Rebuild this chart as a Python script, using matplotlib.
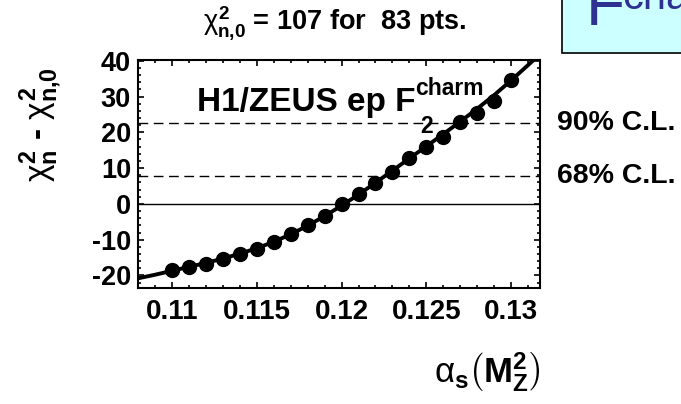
import matplotlib
matplotlib.use("Agg")
import matplotlib.pyplot as plt
from matplotlib.patches import Rectangle
from matplotlib.ticker import MultipleLocator
import matplotlib.transforms as mtransforms

plt.rcParams['font.family'] = ['Liberation Sans', 'DejaVu Sans']
plt.rcParams['axes.unicode_minus'] = False
plt.rcParams['mathtext.fontset'] = 'custom'
plt.rcParams['mathtext.rm'] = 'Liberation Sans'
plt.rcParams['mathtext.bf'] = 'Liberation Sans:bold'
plt.rcParams['mathtext.it'] = 'Liberation Sans'
plt.rcParams['mathtext.sf'] = 'Liberation Sans'

# chi2 scan points vs alpha_s
alpha_pts = [0.110, 0.111, 0.112, 0.113, 0.114, 0.115, 0.116, 0.117, 0.118, 0.119, 0.120,
             0.121, 0.122, 0.123, 0.124, 0.125, 0.126, 0.127, 0.128, 0.129, 0.130]
dchi2_pts = [-18.6, -17.6, -16.7, -15.4, -14.1, -12.6, -10.7, -8.4, -5.9, -3.5, -0.1,
             2.8, 5.8, 9.0, 12.8, 15.8, 18.8, 23.0, 25.5, 28.8, 34.7]

# fitted curve
alpha_fit = [0.108, 0.109, 0.110, 0.111, 0.112, 0.113, 0.114, 0.115, 0.116, 0.117, 0.118, 0.119,
             0.120, 0.121, 0.122, 0.123, 0.124, 0.125, 0.126, 0.127, 0.128, 0.129, 0.130, 0.131, 0.1317]
dchi2_fit = [-20.8, -19.8, -18.7, -17.6, -16.5, -15.3, -13.9, -12.4, -10.6, -8.5, -6.1, -3.4,
             -0.5, 2.6, 5.9, 9.3, 12.7, 16.1, 19.5, 23.0, 26.6, 30.4, 34.5, 38.8, 41.8]

cl_levels = [22.7, 7.8]
cl_labels = ["90% C.L.", "68% C.L."]

xticks = [0.11, 0.115, 0.12, 0.125, 0.13]
xticklabels = ["0.11", "0.115", "0.12", "0.125", "0.13"]
yticks = [-20, -10, 0, 10, 20, 30, 40]

fig = plt.figure(figsize=(6.81, 4.04), dpi=100)
ax = fig.add_axes([138/681, 1-288/404, 402/681, 228/404])

ax.plot(alpha_fit, dchi2_fit, color="black", lw=2.8, zorder=3)
ax.plot(alpha_pts, dchi2_pts, "o", color="black", ms=10, zorder=4)
ax.axhline(0, color="black", lw=1.0)
for lev in cl_levels:
    ax.axhline(lev, color="black", lw=1.0, dashes=(7, 4))

ax.set_xlim(0.108, 0.1317)
ax.set_ylim(-23.5, 40.2)
ax.set_xticks(xticks)
ax.set_xticklabels(xticklabels)
ax.set_yticks(yticks)
ax.xaxis.set_minor_locator(MultipleLocator(0.001))
ax.yaxis.set_minor_locator(MultipleLocator(2))
ax.tick_params(which="both", direction="in", top=True, right=True, width=1.2)
ax.tick_params(which="major", length=4.5)
ax.tick_params(which="minor", length=2.5)
ax.tick_params(axis="x", pad=8, labelsize=20)
ax.tick_params(axis="y", pad=5, labelsize=19.5)
for lab in ax.get_xticklabels() + ax.get_yticklabels():
    lab.set_fontweight("bold")
for sp in ax.spines.values():
    sp.set_linewidth(1.5)

trans = mtransforms.blended_transform_factory(ax.transAxes, ax.transData)
for lev, lab in zip(cl_levels, cl_labels):
    ax.text(1.042, lev, lab, transform=trans, fontsize=20.5, fontweight="bold",
            va="center", ha="left", clip_on=False)

# in-plot label
fig.text(197/681, 1-111/404, "H1/ZEUS ep F", fontsize=24, fontweight="bold",
         ha="left", va="baseline")
fig.text(415/681, 1-95/404, "charm", fontsize=16.5, fontweight="bold",
         ha="left", va="baseline")
fig.text(420/681, 1-133/404, "2", fontsize=16.5, fontweight="bold",
         ha="left", va="baseline")

# title
fig.text(203/681, 1-30/404, r"$\chi^{\mathbf{2}}_{\mathbf{n{,}0}}$ = 107 for  83 pts.",
         fontsize=19.5, fontweight="bold", ha="left", va="baseline")

# axis labels
fig.text(41/681, 1-125/404, r"$\chi^{\mathbf{2}}_{\mathbf{n}}$ - $\chi^{\mathbf{2}}_{\mathbf{n{,}0}}$",
         fontsize=24, fontweight="bold", rotation=90, ha="center", va="center")
fig.text(487/681, 1-372/404, r"$\alpha_{\mathbf{s}}\left(\mathbf{M}^{\mathbf{2}}_{\mathbf{Z}}\right)$",
         fontsize=25, ha="center", va="center")

# box in the top right corner (cut by the edge)
fig.patches.append(Rectangle((562/681, 1-53/404), 0.3, 0.3, transform=fig.transFigure,
                             facecolor="#ccffff", edgecolor="black", lw=1.2))
fig.text(586/681, 1-25/404, "F", fontsize=46, color="#2e3192", ha="left", va="baseline")
fig.text(622/681, 1-9/404, "charm", fontsize=30, color="#2e3192", ha="left", va="baseline")

fig.savefig("out.png", dpi=100)
